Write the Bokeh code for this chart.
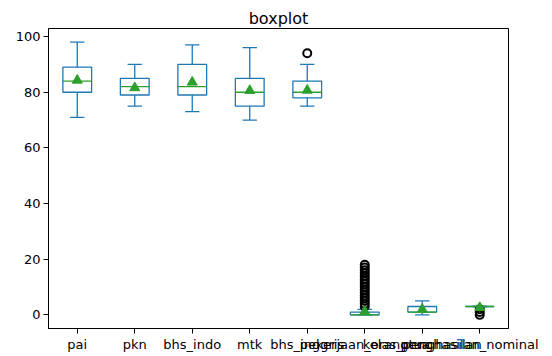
import numpy as np
from bokeh.plotting import figure
from bokeh.models import FixedTicker, Range1d
from bokeh.embed import file_html
from bokeh.resources import INLINE

# ---- data ----
columns = ["pai", "pkn", "bhs_indo", "mtk", "bhs_inggris",
           "pekerjaan_orangtua", "kelas_penghasilan", "penghasilan_nominal"]
whisker_low = [71, 75, 73, 70, 75, 0, 0, 3]
q1 = [80, 79, 79, 75, 78, 0, 1, 3]
median = [84, 82, 82, 80, 80, 0, 1, 3]
q3 = [89, 85, 90, 85, 84, 1, 3, 3]
whisker_high = [98, 90, 97, 96, 90, 2, 5, 3]
means = [84.3, 81.6, 83.6, 80.6, 80.7, 1.2, 2.0, 2.6]
# outliers (column position starting at 1, value)
outlier_col = [5] + [6] * 16 + [8, 8, 8]
outlier_val = [94, 3, 4, 5, 6, 7, 8, 9, 10, 11, 12, 13, 14, 15, 16, 17, 18, 0, 1, 2]
y_ticks = [0, 20, 40, 60, 80, 100]

BLUE = "#1f77b4"
GREEN = "#2ca02c"
FONT = "DejaVu Sans"

pos = np.arange(1, len(columns) + 1)
box_w = 0.5
cap_w = 0.25

p = figure(frame_width=460, frame_height=300, output_backend="svg",
           toolbar_location=None, title="boxplot",
           x_range=Range1d(0.5, 8.5), y_range=Range1d(-4.9, 102.9),
           min_border_left=48, min_border_right=30, min_border_top=28,
           min_border_bottom=0)

p.title.align = "center"
p.title.text_font = FONT
p.title.text_font_size = "16px"
p.title.text_font_style = "normal"
p.title.text_color = "black"
p.title.standoff = 1

p.xgrid.visible = False
p.ygrid.visible = False
p.outline_line_color = "black"
p.outline_line_width = 1
p.background_fill_color = "white"
p.border_fill_color = "white"

for ax in (p.xaxis[0], p.yaxis[0]):
    ax.axis_line_color = "black"
    ax.major_tick_line_color = "black"
    ax.major_tick_out = 5
    ax.major_tick_in = 0
    ax.minor_tick_line_color = None
    ax.major_label_text_font = FONT
    ax.major_label_text_font_size = "13px"
    ax.major_label_text_color = "black"
    ax.major_label_standoff = 3

p.xaxis[0].ticker = FixedTicker(ticks=list(pos))
p.xaxis[0].major_label_overrides = {int(i): c for i, c in zip(pos, columns)}
p.yaxis[0].ticker = FixedTicker(ticks=y_ticks)

lw = 1.3
# boxes
p.quad(left=pos - box_w / 2, right=pos + box_w / 2, bottom=q1, top=q3,
       fill_color=None, line_color=BLUE, line_width=lw)
# whiskers
p.segment(x0=pos, x1=pos, y0=q3, y1=whisker_high, line_color=BLUE, line_width=lw)
p.segment(x0=pos, x1=pos, y0=q1, y1=whisker_low, line_color=BLUE, line_width=lw)
# caps
p.segment(x0=pos - cap_w / 2, x1=pos + cap_w / 2, y0=whisker_high, y1=whisker_high,
          line_color=BLUE, line_width=lw)
p.segment(x0=pos - cap_w / 2, x1=pos + cap_w / 2, y0=whisker_low, y1=whisker_low,
          line_color=BLUE, line_width=lw)
# outliers
p.scatter(x=outlier_col, y=outlier_val, marker="circle", size=8,
          fill_color=None, line_color="black", line_width=2)
# medians
p.segment(x0=pos - box_w / 2, x1=pos + box_w / 2, y0=median, y1=median,
          line_color=GREEN, line_width=lw)
# means
p.scatter(x=pos, y=means, marker="triangle", size=10,
          fill_color=GREEN, line_color=GREEN)

open("out.html", "w").write(file_html(p, INLINE))
